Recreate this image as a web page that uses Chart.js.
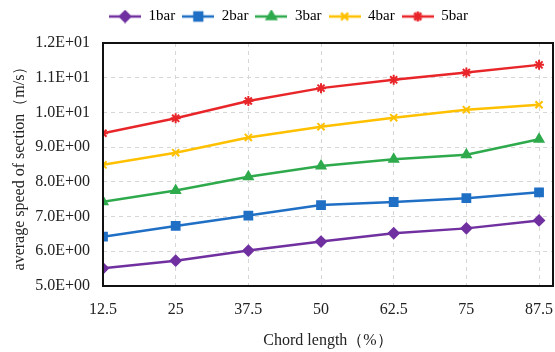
<!DOCTYPE html>
<html>
<head>
<meta charset="utf-8">
<script src="https://cdn.jsdelivr.net/npm/chart.js@4"></script>
<style>
  html, body { margin: 0; padding: 0; background: #fff; }
  #wrap { width: 555px; height: 352px; }
</style>
</head>
<body>
<div id="wrap"><canvas id="speed"></canvas></div>
<script>
var chordLength = [12.5, 25, 37.5, 50, 62.5, 75, 87.5];
var bar1 = [5.51, 5.73, 6.02, 6.28, 6.52, 6.66, 6.89];
var bar2 = [6.42, 6.73, 7.03, 7.33, 7.42, 7.53, 7.70];
var bar3 = [7.43, 7.75, 8.15, 8.46, 8.65, 8.78, 9.23];
var bar4 = [8.49, 8.84, 9.28, 9.59, 9.85, 10.08, 10.22];
var bar5 = [9.40, 9.83, 10.33, 10.70, 10.94, 11.15, 11.37];
var yTicks = [5, 6, 7, 8, 9, 10, 11, 12];

function points(vals) {
    return vals.map(function (v, i) { return { x: chordLength[i], y: v }; });
}

// small canvas: line segment with the marker on it, used as legend symbol
function legendIcon(color, style, r) {
    var c = document.createElement('canvas');
    c.width = 32; c.height = 14;
    var ctx = c.getContext('2d');
    ctx.strokeStyle = color;
    ctx.lineWidth = 2.5;
    ctx.beginPath(); ctx.moveTo(0, 7); ctx.lineTo(32, 7); ctx.stroke();
    ctx.fillStyle = color;
    Chart.helpers.drawPoint(ctx, { pointStyle: style, radius: r, borderWidth: 2 }, 16, 7);
    return c;
}

var series = [
    { label: '1bar', data: bar1, color: '#7030A0', style: 'rectRot', r: 5 },
    { label: '2bar', data: bar2, color: '#1F6FC5', style: 'rect', r: 5.5 },
    { label: '3bar', data: bar3, color: '#2EAA4C', style: 'triangle', r: 5 },
    { label: '4bar', data: bar4, color: '#FFC000', style: 'crossRot', r: 5 },
    { label: '5bar', data: bar5, color: '#E8262A', style: 'star', r: 5 }
];

var frame = {
    id: 'frame',
    afterDraw: function (chart) {
        var a = chart.chartArea, ctx = chart.ctx;
        ctx.save();
        ctx.strokeStyle = '#111';
        ctx.lineWidth = 2;
        ctx.strokeRect(a.left, a.top, a.right - a.left, a.bottom - a.top);
        ctx.restore();
    }
};

// extra room under the legend, and nudge it a little to the right
var legendGap = {
    id: 'legendGap',
    beforeInit: function (chart) {
        var fit = chart.legend.fit;
        chart.legend.fit = function () {
            fit.call(this);
            this.height += 9;
            if (this.lineWidths) this.lineWidths[0] -= 20;
        };
    }
};

var tickFont = { family: 'Liberation Serif', size: 16 };
var titleFont = { family: 'Liberation Serif', size: 16 };

new Chart('speed', {
    type: 'line',
    data: {
        datasets: series.map(function (s) {
            return {
                label: s.label,
                data: points(s.data),
                borderColor: s.color,
                backgroundColor: s.color,
                borderWidth: 2.5,
                pointStyle: s.style,
                pointRadius: s.r,
                pointBorderWidth: 2,
                tension: 0
            };
        })
    },
    options: {
        responsive: true,
        maintainAspectRatio: false,
        animation: false,
        layout: { autoPadding: false, padding: { left: 4, right: 2, top: 2, bottom: 2 } },
        scales: {
            x: {
                type: 'linear',
                min: 12.5,
                max: 89.9,
                afterBuildTicks: function (axis) {
                    axis.ticks = chordLength.map(function (v) { return { value: v }; });
                },
                afterFit: function (axis) { axis.paddingRight = 0; axis.height = 64; },
                ticks: { color: '#222', font: tickFont, padding: 14, maxRotation: 0,
                    callback: function (v) { return String(v); } },
                grid: { color: '#d6d6d6', drawTicks: false, tickLength: 0 },
                border: { display: false, dash: [4, 4] },
                title: { display: true, text: 'Chord length（%）', color: '#222', font: titleFont, padding: { top: 12, bottom: 0 } }
            },
            y: {
                min: 5,
                max: 12,
                afterBuildTicks: function (axis) {
                    axis.ticks = yTicks.map(function (v) { return { value: v }; });
                },
                afterFit: function (axis) { axis.width = 99; },
                ticks: { color: '#222', font: tickFont, padding: 13,
                    callback: function (v) {
                        return Number(v).toExponential(1).replace('e+', 'E+0').replace(/E\+0(\d\d)/, 'E+$1');
                    } },
                grid: { color: '#d6d6d6', drawTicks: false },
                border: { display: false, dash: [4, 4] },
                title: { display: true, text: 'average speed of section（m/s）', color: '#222', font: titleFont, padding: { top: 6, bottom: 0 } }
            }
        },
        plugins: {
            legend: {
                position: 'top',
                labels: {
                    color: '#222',
                    font: { family: 'Liberation Serif', size: 15 },
                    usePointStyle: true,
                    pointStyleWidth: 32,
                    padding: 7,
                    generateLabels: function (chart) {
                        return series.map(function (s, i) {
                            return {
                                text: s.label,
                                pointStyle: legendIcon(s.color, s.style, s.r),
                                fillStyle: s.color,
                                strokeStyle: s.color,
                                lineWidth: 0,
                                datasetIndex: i
                            };
                        });
                    }
                }
            },
            tooltip: { enabled: false }
        }
    },
    plugins: [frame, legendGap]
});
</script>
</body>
</html>
